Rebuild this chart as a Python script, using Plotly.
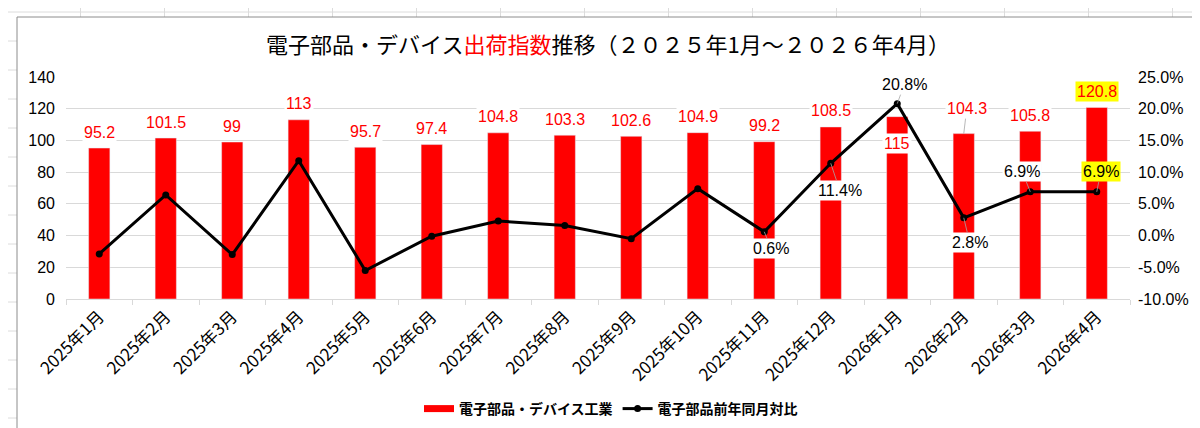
import plotly.graph_objects as go

# データ
months = ["2025年1月", "2025年2月", "2025年3月", "2025年4月", "2025年5月", "2025年6月",
          "2025年7月", "2025年8月", "2025年9月", "2025年10月", "2025年11月", "2025年12月",
          "2026年1月", "2026年2月", "2026年3月", "2026年4月"]
shipment_index = [95.2, 101.5, 99, 113, 95.7, 97.4, 104.8, 103.3, 102.6, 104.9,
                  99.2, 108.5, 115, 104.3, 105.8, 120.8]
yoy_pct = [-2.9, 6.4, -3.0, 11.8, -5.5, -0.1, 2.3, 1.6, -0.5, 7.4,
           0.6, 11.4, 20.8, 2.8, 6.9, 6.9]
# 折れ線のラベルを出す月だけ
yoy_labels = [None, None, None, None, None, None, None, None, None, None,
              "0.6%", "11.4%", "20.8%", "2.8%", "6.9%", "6.9%"]
left_ticks = [0, 20, 40, 60, 80, 100, 120, 140]
right_ticks = [-10, -5, 0, 5, 10, 15, 20, 25]
right_tick_text = ["-10.0%", "-5.0%", "0.0%", "5.0%", "10.0%", "15.0%", "20.0%", "25.0%"]

RED = "#FF0000"
GRID = "#d9d9d9"
NUM_FONT = "Liberation Sans, Arial, sans-serif"
JP_FONT = "Noto Sans CJK JP, sans-serif"

# プロット領域（ピクセル）
W, H = 1200, 428
L, R, T, B = 58, 1122, 69, 291


def px_x(px):
    return (px - L) / (R - L)


def px_y(py):
    return (B - py) / (B - T)


fig = go.Figure()

fig.add_trace(go.Bar(
    x=months, y=shipment_index, name="電子部品・デバイス工業",
    marker_color=RED, yaxis="y", showlegend=False, legendgroup="bar",
))

# 凡例用（エクセル風の横長の赤い四角）
fig.add_trace(go.Scatter(
    x=[None], y=[None], name="電子部品・デバイス工業", mode="lines",
    line=dict(color=RED, width=7), legendgroup="bar",
))

fig.add_trace(go.Scatter(
    x=months, y=yoy_pct, name="電子部品前年同月対比", yaxis="y2",
    mode="lines+markers",
    line=dict(color="black", width=3),
    marker=dict(color="black", size=7),
))

annotations = []

# 棒グラフのデータラベル
for i, (m, v) in enumerate(zip(months, shipment_index)):
    label = f"{v:g}"
    a = dict(x=m, y=v, xref="x", yref="y", text=label, showarrow=False,
             yshift=16, bgcolor="white",
             font=dict(color=RED, size=16, family=NUM_FONT))
    if m == "2026年1月":
        a["yshift"] = -27
    if m == "2026年2月":
        a.update(showarrow=True, arrowhead=0, arrowwidth=0.8, arrowcolor="#a6a6a6",
                 ax=3, ay=-25, yshift=0)
    if m == "2026年4月":
        a["bgcolor"] = "#FFFF00"
    annotations.append(a)

# 折れ線のデータラベル（位置のずらし量）
offsets = {
    "2025年11月": (7, 17),
    "2025年12月": (9, 27),
    "2026年1月": (7, -19),
    "2026年2月": (6, 25),
    "2026年3月": (-8, -20),
    "2026年4月": (4, -20),
}
for m, v, lab in zip(months, yoy_pct, yoy_labels):
    if lab is None:
        continue
    ax, ay = offsets[m]
    annotations.append(dict(
        x=m, y=v, xref="x", yref="y2", text=lab,
        showarrow=True, arrowhead=0, arrowwidth=0.8, arrowcolor="#a6a6a6",
        ax=ax, ay=ay, bgcolor="#FFFF00" if m == "2026年4月" else "white",
        font=dict(color="black", size=16, family=NUM_FONT),
    ))

# エクセルのセル線とグラフの枠
shapes = []
for k in range(15):
    x = 72.5 + 84 * k
    shapes.append(dict(type="line", xref="paper", yref="paper", layer="below",
                       x0=px_x(x), x1=px_x(x), y0=px_y(0), y1=px_y(H),
                       line=dict(color="#dcdcdc", width=1)))
for k in range(15):
    y = 4 + 29 * k
    shapes.append(dict(type="line", xref="paper", yref="paper", layer="below",
                       x0=px_x(0), x1=px_x(W), y0=px_y(y), y1=px_y(y),
                       line=dict(color="#dcdcdc", width=1)))
shapes.append(dict(type="rect", xref="paper", yref="paper", layer="below",
                   x0=px_x(11), x1=px_x(1196), y0=px_y(12), y1=px_y(424),
                   fillcolor="#7f7f7f", line=dict(width=0)))
shapes.append(dict(type="rect", xref="paper", yref="paper", layer="below",
                   x0=px_x(9), x1=px_x(1193), y0=px_y(9), y1=px_y(421),
                   fillcolor="white", line=dict(color="#8c8c8c", width=1)))

fig.update_layout(
    width=W, height=H,
    margin=dict(l=L, r=W - R, t=T, b=H - B, autoexpand=False),
    paper_bgcolor="white",
    plot_bgcolor="rgba(0,0,0,0)",
    bargap=0.68,
    font=dict(family=NUM_FONT, color="black"),
    title=dict(
        text='電子部品・デバイス<span style="color:#FF0000">出荷指数</span>推移（２０２５年1月～２０２６年4月）',
        x=px_x(600), xref="paper", xanchor="center",
        y=1 - 37 / H, yref="container", yanchor="middle",
        font=dict(family=JP_FONT, size=22, color="black"),
    ),
    xaxis=dict(
        type="category", tickangle=-45, automargin=False,
        range=[-0.5, len(months) - 0.5],
        tickfont=dict(family=JP_FONT, size=17, color="black"),
        showline=True, linecolor=GRID, linewidth=1,
        ticks="outside", tickson="boundaries", ticklen=5, tickcolor=GRID,
        showgrid=False,
    ),
    yaxis=dict(
        range=[0, 140], tickvals=left_ticks, automargin=False,
        tickfont=dict(size=16, family=NUM_FONT, color="black"),
        showgrid=True, gridcolor=GRID, gridwidth=1, zeroline=False,
        showline=False, ticks="", ticklabelstandoff=10,
    ),
    yaxis2=dict(
        range=[-10, 25], tickvals=right_ticks, ticktext=right_tick_text,
        overlaying="y", side="right", automargin=False,
        tickfont=dict(size=16, family=NUM_FONT, color="black"),
        showgrid=False, zeroline=False, showline=False, ticks="",
        ticklabelstandoff=7,
    ),
    legend=dict(
        orientation="h", x=px_x(603), xanchor="center",
        y=px_y(401), yanchor="middle",
        font=dict(family=JP_FONT, size=14, color="black", weight="bold"),
        itemwidth=30, bgcolor="rgba(0,0,0,0)",
    ),
    annotations=annotations,
    shapes=shapes,
    showlegend=True,
)

fig.write_html("out.html")
